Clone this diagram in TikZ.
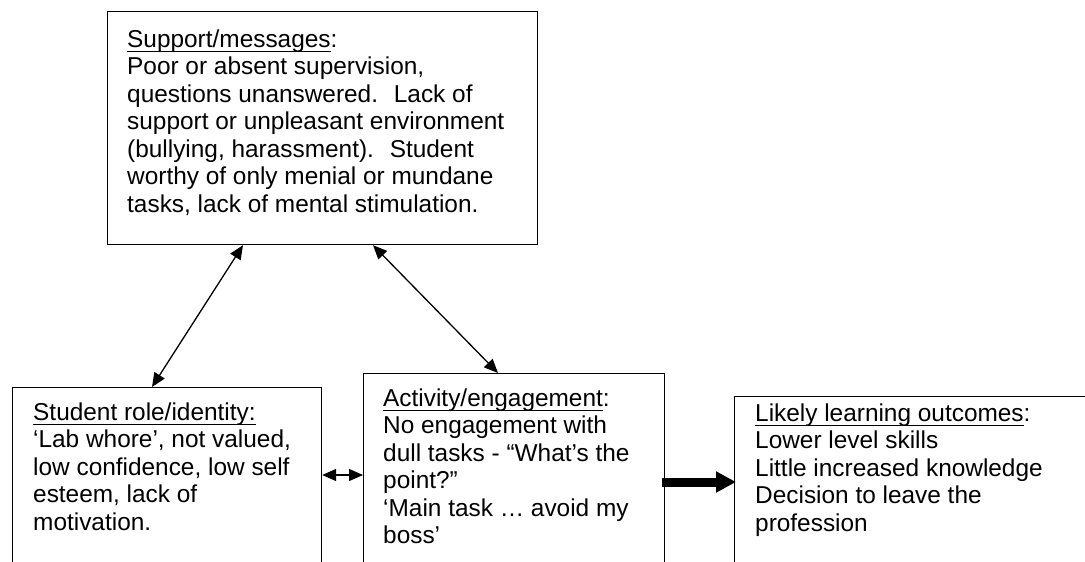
\documentclass[tikz,border=0pt]{standalone}
\usepackage{fontspec}
\setmainfont{Liberation Sans}
\usetikzlibrary{arrows.meta,calc}
\newcommand\myul[1]{\setbox0\hbox{#1}\rlap{\rule[-4.6pt]{\wd0}{1.3pt}}\box0}
\tikzset{
  box/.style={draw=black, line width=1.2pt, rectangle, inner sep=0pt, anchor=north west},
  txt/.style={anchor=north west, inner sep=0pt, align=left, font=\fontsize{24.4}{27.5}\selectfont},
  arr/.style={line width=1.3pt, {Triangle[length=14pt,width=12pt]}-{Triangle[length=14pt,width=12pt]}},
  fat/.style={line width=9pt, -{Triangle[length=20pt,width=20pt]}},
}
\begin{document}
\begin{tikzpicture}[x=1pt,y=-1pt]
\useasboundingbox (0,0) rectangle (1085,562);
\clip (0,0) rectangle (1085,562);
\fill[white] (0,0) rectangle (1085,562);
% boxes
\node[box, minimum width=430, minimum height=233] (sup) at (107,11) {};
\node[box, minimum width=309, minimum height=250] (stu) at (12,387) {};
\node[box, minimum width=301, minimum height=250] (act) at (363,373) {};
\node[box, minimum width=380, minimum height=250] (out) at (734,396) {};
% texts
\node[txt] (tsup) at (127,27.75) {\strut\myul{Support/messages}:\\
Poor or absent supervision,\\
questions unanswered.~ Lack of\\
support or unpleasant environment\\
(bullying, harassment).~ Student\\
worthy of only menial or mundane\\
tasks, lack of mental stimulation.};
\node[txt] (tstu) at (33,400.75) {\strut\myul{Student role/identity:}\\
‘Lab whore’, not valued,\\
low confidence, low self\\
esteem, lack of\\
motivation.};
\node[txt] (tact) at (383,386.75) {\strut\myul{Activity/engagement}:\\
No engagement with\\
dull tasks - “What’s the\\
point?”\\
‘Main task … avoid my\\
boss’};
\node[txt] (tout) at (755,401.75) {\strut\myul{Likely learning outcomes}:\\
Lower level skills\\
Little increased knowledge\\
Decision to leave the\\
profession};
% connectors
\draw[arr] ($(stu.north west)+(140,0)$) -- ($(sup.south west)+(136,0)$);
\draw[arr] ($(sup.south west)+(266,0)$) -- ($(act.north west)+(135,0)$);
\draw[arr] ($(stu.north east)+(0,88)$) -- ($(act.north west)+(0,102)$);
\draw[fat] ($(act.north east)+(-3,109)$) -- ($(out.north west)+(2,86)$);
\end{tikzpicture}
\end{document}
